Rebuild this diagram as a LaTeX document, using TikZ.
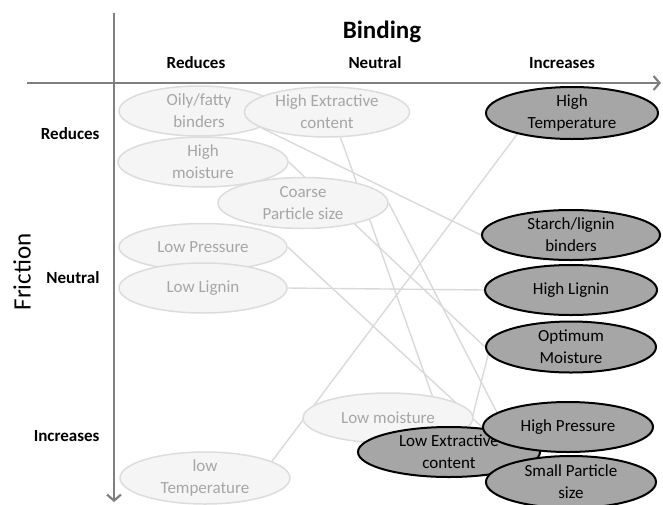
\documentclass[tikz,border=0pt]{standalone}
\usepackage{fontspec}
\setmainfont{Carlito}
\usepackage{xcolor}
\usetikzlibrary{arrows.meta,shapes,backgrounds}
\definecolor{axisgray}{HTML}{7F7F7F}
\definecolor{softfill}{HTML}{F5F5F5}
\definecolor{softdraw}{HTML}{DCDCDC}
\definecolor{softtext}{HTML}{A6A6A6}
\definecolor{hardfill}{HTML}{A6A6A6}
\definecolor{linkgray}{HTML}{D9D9D9}
\begin{document}
\begin{tikzpicture}[x=1pt,y=-1pt,
soft/.style={ellipse,draw=softdraw,line width=1.5pt,fill=softfill,text=softtext,align=center,inner sep=-6pt,font=\fontsize{17}{22}\selectfont},
hard/.style={ellipse,draw=black,line width=2pt,fill=hardfill,text=black,align=center,inner sep=-6pt,font=\fontsize{17}{22}\selectfont},
head/.style={font=\fontsize{17}{20}\selectfont\bfseries},
link/.style={draw=linkgray,line width=1.4pt},
axis/.style={draw=axisgray,line width=2.6pt,-{Straight Barb[length=6pt,width=14pt,line width=2.2pt]}}]
\useasboundingbox (0,0) rectangle (663,504);
\draw[axis](27,83)--(661,83);
\draw[axis](114,13)--(114,502);
\node[font=\fontsize{25}{28}\selectfont\bfseries] (bind) at (382,32) {Binding};
\node[head] (br) at (196,63) {Reduces};
\node[head] (bn) at (375,63) {Neutral};
\node[head] (bi) at (562,63) {Increases};
\node[head,anchor=east] (fr) at (103,134) {Reduces};
\node[head,anchor=east] (fn) at (103,278) {Neutral};
\node[head,anchor=east] (fi) at (103,436) {Increases};
\node[font=\fontsize{25}{28}\selectfont,rotate=90] (fric) at (22,272) {Friction};
\node[soft,minimum width=160pt,minimum height=50pt] (oily) at (199,111) {Oily/fatty\\binders};
\node[soft,minimum width=165pt,minimum height=50pt] (hextr) at (327,112) {High Extractive\\content};
\node[soft,minimum width=170pt,minimum height=50pt] (hmoist) at (203,162) {High\\moisture};
\node[soft,minimum width=170pt,minimum height=51pt] (coarse) at (303,203) {Coarse\\Particle size};
\node[soft,minimum width=168pt,minimum height=47pt] (lpress) at (203,247) {Low Pressure};
\node[soft,minimum width=168pt,minimum height=50pt] (llignin) at (203,288) {Low Lignin};
\node[soft,minimum width=170pt,minimum height=50pt] (lmoist) at (388,418) {Low moisture};
\node[soft,minimum width=170pt,minimum height=52pt] (ltemp) at (205,478) {low\\Temperature};
\node[hard,minimum width=172pt,minimum height=52pt] (htemp) at (572,113) {High\\Temperature};
\node[hard,minimum width=178pt,minimum height=50pt] (starch) at (571,235) {Starch/lignin\\binders};
\node[hard,minimum width=172pt,minimum height=50pt] (hlignin) at (571,290) {High Lignin};
\node[hard,minimum width=170pt,minimum height=51pt] (optmoist) at (571,347) {Optimum\\Moisture};
\node[hard,minimum width=182pt,minimum height=50pt] (lextr) at (449,452) {Low Extractive\\content};
\node[hard,minimum width=170pt,minimum height=50pt] (hpress) at (568,427) {High Pressure};
\node[hard,minimum width=170pt,minimum height=52pt] (small) at (571,482) {Small Particle\\size};
\begin{pgfonlayer}{background}
\draw[link](oily.-15)--(starch.180);
\draw[link](hmoist.east)--(optmoist.180);
\draw[link](hextr.-62)--(lextr.103);
\draw[link](coarse.east)--(small.156);
\draw[link](lpress.east)--(hpress.180);
\draw[link](llignin.east)--(hlignin.west);
\draw[link](ltemp.14)--(htemp.201);
\draw[link](lmoist.-5)--(optmoist.185);
\end{pgfonlayer}
\end{tikzpicture}
\end{document}
